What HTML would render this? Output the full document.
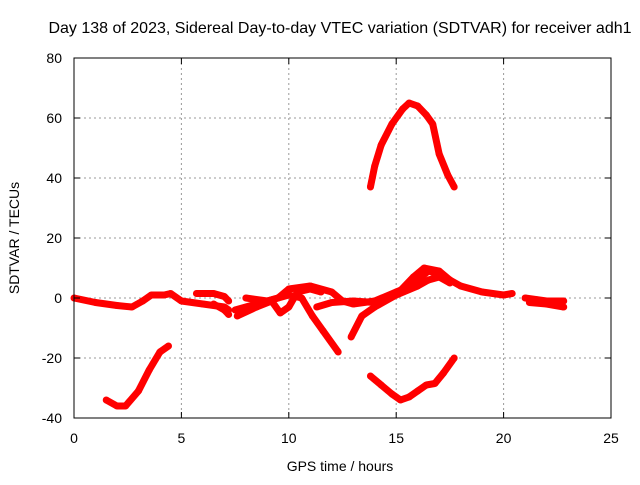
<!DOCTYPE html>
<html><head><meta charset="utf-8"><style>
body{margin:0;background:#fff;}
svg text{font-family:"Liberation Sans",sans-serif;font-size:14px;fill:#000;}
</style></head><body>
<svg id="chart" width="640" height="480">
<rect width="640" height="480" fill="#fff"/>
<text x="340" y="33" text-anchor="middle" style="font-size:16px">Day 138 of 2023, Sidereal Day-to-day VTEC variation (SDTVAR) for receiver adh1</text>
<g id="grid"></g>
<g id="series"></g>
<rect x="74" y="58" width="537" height="360" fill="none" stroke="#000" stroke-width="1"/>
<g id="ticks"></g>
<text x="340" y="471" text-anchor="middle">GPS time / hours</text>
<text transform="translate(19,238) rotate(-90)" text-anchor="middle">SDTVAR / TECUs</text>
</svg>
<script>
const xTicks=[0,5,10,15,20,25];
const yTicks=[-40,-20,0,20,40,60,80];
const seriesBaseline=[[0,0],[1,-1.5],[2,-2.5],[2.7,-3],[3.2,-1],[3.6,1],[4.2,1],[4.5,1.5],[5,-1],[6,-2],[7,-3],[7.2,-4]];
const seriesLow1=[[1.5,-34],[2,-36],[2.4,-36],[3,-31],[3.5,-24],[4,-18],[4.4,-16]];
const seriesC=[[5.7,1.5],[6.5,1.5],[7,0.5],[7.2,-1]];
const seriesC2=[[6.5,-2],[7,-4],[7.2,-5.5]];
const seriesD=[[7.5,-4],[8.5,-2],[9.5,0],[10,3],[11,4],[12,2],[12.5,-1],[13,-2],[14,-1],[15,2],[15.5,3.5],[16,6],[16.5,9],[17,8],[18,4],[19,2],[20,1],[20.4,1.5]];
const seriesE=[[7.6,-6],[8.5,-3],[9.2,-1],[9.6,-5],[10,-3],[10.4,2],[11,3],[11.5,2]];
const seriesF=[[8,0],[9,-1],[10,1],[10.6,0],[11.1,-6],[11.6,-11],[12.3,-18]];
const seriesG=[[11.3,-3],[12,-1.5],[13,-1],[14,-1.5],[15,1],[16,4],[16.5,6],[17,7],[17.5,5]];
const seriesH=[[12.9,-13],[13.4,-6],[14,-3],[15,1],[15.8,7],[16.3,10],[17,9],[17.5,6]];
const seriesHigh=[[13.8,37],[14,44],[14.3,51],[14.8,58],[15.3,63],[15.6,65],[16,64],[16.4,61],[16.7,58],[17,48],[17.4,41],[17.7,37]];
const seriesLow2=[[13.8,-26],[14.3,-29],[14.8,-32],[15.2,-34],[15.6,-33],[16,-31],[16.4,-29],[16.8,-28.5],[17.2,-25],[17.7,-20]];
const seriesRight=[[21,0],[21.5,-0.5],[22,-1],[22.8,-1]];
const seriesRight2=[[21.2,-1.5],[22,-2],[22.8,-3]];
const allSeries=[seriesBaseline,seriesLow1,seriesC,seriesC2,seriesD,seriesE,seriesF,seriesG,seriesH,seriesHigh,seriesLow2,seriesRight,seriesRight2];
const NS="http://www.w3.org/2000/svg";
function sx(h){return 74+h*(537/25);}
function sy(v){return 298-v*3;}
const grid=document.getElementById('grid'),ticks=document.getElementById('ticks'),ser=document.getElementById('series');
xTicks.forEach(t=>{
  const x=sx(t);
  if(t>0&&t<25){const l=document.createElementNS(NS,'line');
  l.setAttribute('x1',x);l.setAttribute('x2',x);l.setAttribute('y1',58);l.setAttribute('y2',418);
  l.setAttribute('stroke','#999');l.setAttribute('stroke-dasharray','2,3');
  
  grid.appendChild(l);}
  const tk=document.createElementNS(NS,'path');
  tk.setAttribute('d',`M${x},418v-6M${x},58v6`);tk.setAttribute('stroke','#000');
  
  ticks.appendChild(tk);
  const tx=document.createElementNS(NS,'text');tx.setAttribute('x',x);tx.setAttribute('y',443);tx.setAttribute('text-anchor','middle');tx.textContent=t;
  
  ticks.appendChild(tx);
});
yTicks.forEach(t=>{
  const y=sy(t);
  if(t>-40&&t<80){const l=document.createElementNS(NS,'line');
  l.setAttribute('x1',74);l.setAttribute('x2',611);l.setAttribute('y1',y);l.setAttribute('y2',y);
  l.setAttribute('stroke','#999');l.setAttribute('stroke-dasharray','2,3');
  
  grid.appendChild(l);}
  const tk=document.createElementNS(NS,'path');
  tk.setAttribute('d',`M74,${y}h6M611,${y}h-6`);tk.setAttribute('stroke','#000');
  
  ticks.appendChild(tk);
  const tx=document.createElementNS(NS,'text');tx.setAttribute('x',62);tx.setAttribute('y',y+5);tx.setAttribute('text-anchor','end');tx.textContent=t;
  
  ticks.appendChild(tx);
});
const HW=3.5;
allSeries.forEach(s=>{
  const g=document.createElementNS(NS,'g');
  
  
  for(let i=0;i<s.length-1;i++){
    const x1=sx(s[i][0]),y1=sy(s[i][1]),x2=sx(s[i+1][0]),y2=sy(s[i+1][1]);
    const dx=x2-x1,dy=y2-y1,L=Math.hypot(dx,dy)||1,nx=-dy/L*HW,ny=dx/L*HW;
    const pg=document.createElementNS(NS,'polygon');
    pg.setAttribute('points',`${x1+nx},${y1+ny} ${x2+nx},${y2+ny} ${x2-nx},${y2-ny} ${x1-nx},${y1-ny}`);
    pg.setAttribute('fill','#f00');
    
    
    g.appendChild(pg);
  }
  s.forEach(d=>{
    const c=document.createElementNS(NS,'circle');
    c.setAttribute('cx',sx(d[0]));c.setAttribute('cy',sy(d[1]));c.setAttribute('r',HW);c.setAttribute('fill','#f00');
    
    
    g.appendChild(c);
  });
  ser.appendChild(g);
});
</script>
</body></html>
